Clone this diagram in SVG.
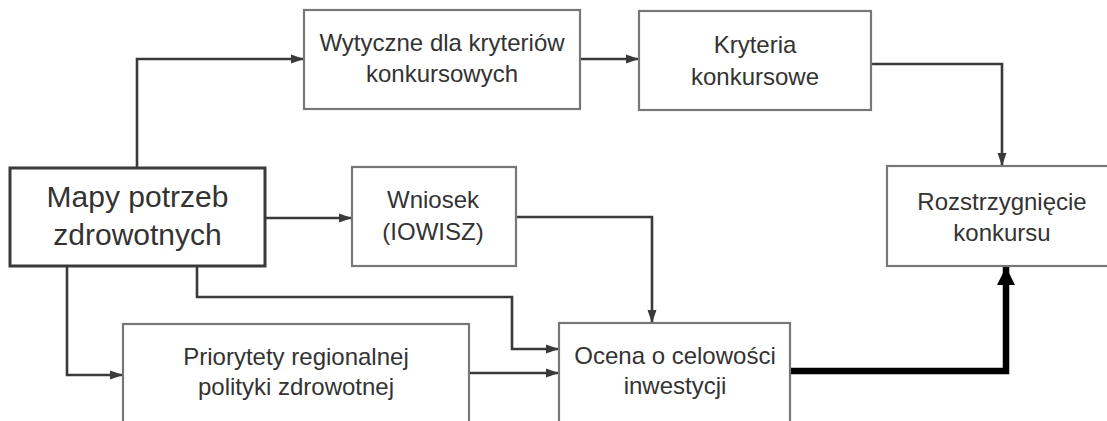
<svg xmlns="http://www.w3.org/2000/svg" width="1107" height="421" viewBox="0 0 1107 421">
<style>
.box{fill:#fff;stroke:#777;stroke-width:2.2}
.main{fill:#fff;stroke:#3a3a3a;stroke-width:3}
.t{font-family:"Liberation Sans",Arial,sans-serif;font-size:24px;fill:#333;text-anchor:middle}
.tb{font-family:"Liberation Sans",Arial,sans-serif;font-size:30px;fill:#333;text-anchor:middle}
.c{fill:none;stroke:#3a3a3a;stroke-width:2.6}
.thick{fill:none;stroke:#000;stroke-width:6.5}
</style>
<defs>
<marker id="a" markerUnits="userSpaceOnUse" markerWidth="13" markerHeight="10" refX="13" refY="5" orient="auto">
<path d="M0,0.5 L13,5 L0,9.5 Z" fill="#3a3a3a"/>
</marker>
<marker id="b" markerUnits="userSpaceOnUse" markerWidth="18" markerHeight="18" refX="18" refY="9" orient="auto">
<path d="M0,0 L18,9 L0,18 Z" fill="#000"/>
</marker>
</defs>
<rect width="1107" height="421" fill="#fff"/>
<g id="connectors">
<path class="c" d="M137,168 V59 H304" marker-end="url(#a)"/>
<path class="c" d="M580,59 H639" marker-end="url(#a)"/>
<path class="c" d="M871,64 H1002 V166" marker-end="url(#a)"/>
<path class="c" d="M265,218 H352" marker-end="url(#a)"/>
<path class="c" d="M516,217 H652 V323" marker-end="url(#a)"/>
<path class="c" d="M67,266 V375 H123" marker-end="url(#a)"/>
<path class="c" d="M197,266 V297 H512 V349 H559" marker-end="url(#a)"/>
<path class="c" d="M469,373 H559" marker-end="url(#a)"/>
<path class="thick" d="M790,371 H1006 V267" marker-end="url(#b)"/>
</g>
<g id="mapy">
<rect class="main" x="10" y="168" width="255" height="98"/>
<text class="tb" x="137.5" y="207">Mapy potrzeb</text>
<text class="tb" x="137.5" y="245">zdrowotnych</text>
</g>
<g id="wytyczne">
<rect class="box" x="304" y="10" width="276" height="99"/>
<text class="t" x="442" y="51">Wytyczne dla kryteriów</text>
<text class="t" x="442" y="82">konkursowych</text>
</g>
<g id="kryteria">
<rect class="box" x="639" y="11" width="232" height="99"/>
<text class="t" x="755" y="53">Kryteria</text>
<text class="t" x="755" y="85">konkursowe</text>
</g>
<g id="wniosek">
<rect class="box" x="352" y="167" width="164" height="99"/>
<text class="t" x="433" y="208">Wniosek</text>
<text class="t" x="433" y="240">(IOWISZ)</text>
</g>
<g id="rozstrzygniecie">
<rect class="box" x="887" y="166" width="240" height="100"/>
<text class="t" x="1002" y="210">Rozstrzygnięcie</text>
<text class="t" x="1002" y="241">konkursu</text>
</g>
<g id="priorytety">
<rect class="box" x="123" y="324" width="346" height="120"/>
<text class="t" x="296" y="365">Priorytety regionalnej</text>
<text class="t" x="296" y="395">polityki zdrowotnej</text>
</g>
<g id="ocena">
<rect class="box" x="559" y="323" width="231" height="120"/>
<text class="t" x="675" y="364">Ocena o celowości</text>
<text class="t" x="675" y="394">inwestycji</text>
</g>
</svg>
